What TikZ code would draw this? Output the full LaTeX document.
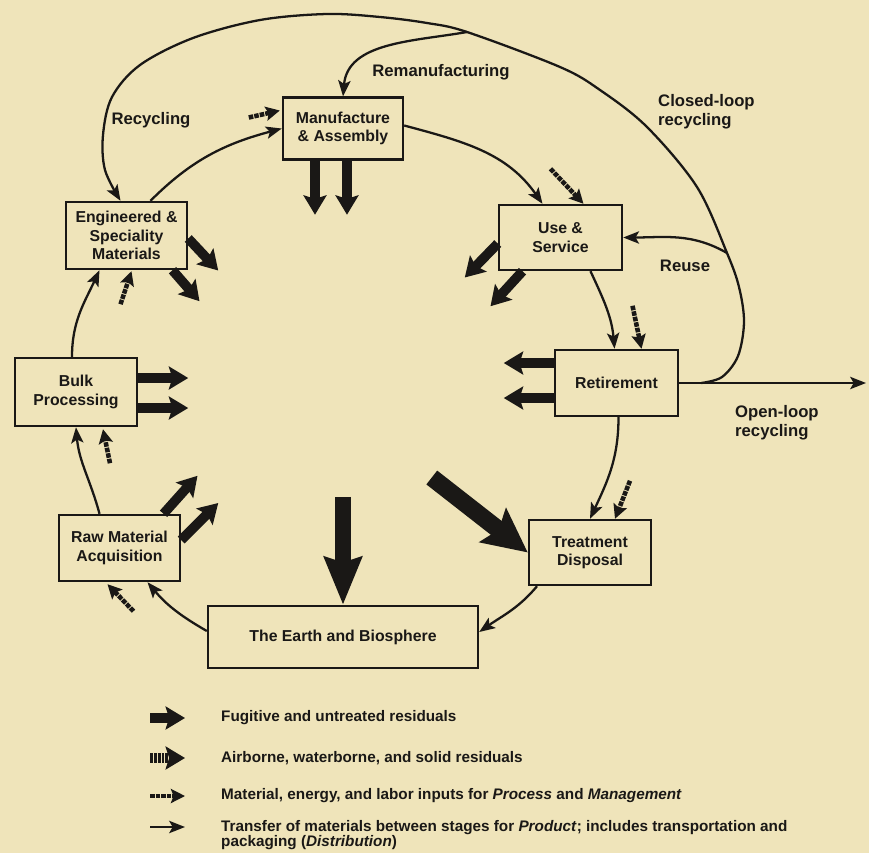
\documentclass[tikz,border=0pt]{standalone}
\usepackage{fontspec}
\setmainfont{Liberation Sans}
\usepackage{tikz}
\usetikzlibrary{positioning, arrows.meta, calc}

\definecolor{paper}{RGB}{239,228,186}
\definecolor{ink}{RGB}{26,24,22}

\begin{document}
\begin{tikzpicture}[
    x=0.02cm, y=-0.02cm,
    stage/.style={draw=ink, line width=1.4pt, align=center, inner sep=0pt, text=ink,
                  font=\fontsize{9}{10.5}\selectfont\bfseries},
    tag/.style={text=ink, align=left, font=\fontsize{9.5}{11}\selectfont\bfseries},
    legend/.style={text=ink, align=left, anchor=west, font=\fontsize{8.7}{9}\selectfont\bfseries},
    transfer/.style={-{Stealth[length=9pt, width=7pt, inset=2pt]}, line width=1.3pt, draw=ink},
    fugitive/.style={-{Stealth[length=11pt, width=13pt, inset=2pt]}, line width=5.5pt, draw=ink},
    airborne/.style={fugitive, dash pattern=on 1.6pt off 0.6pt},
    input/.style={-{Stealth[length=8pt, width=8pt, inset=1.5pt]}, line width=2.6pt, draw=ink,
                  dash pattern=on 2.6pt off 0.6pt},
    bigdown/.style={-{Stealth[length=27pt, width=21pt, inset=3pt]}, line width=9pt, draw=ink},
    bigdiag/.style={-{Stealth[length=25pt, width=24pt, inset=4pt]}, line width=10pt, draw=ink}
]

    % Paper
    \fill[paper] (0,0) rectangle (869,853);
    \useasboundingbox (0,0) rectangle (869,853);

    % Life cycle stages
    \node[stage, minimum width=2.40cm, minimum height=1.24cm] (mfg)   at (343,128.5) {Manufacture\\\& Assembly};
    \node[stage, minimum width=2.42cm, minimum height=1.34cm] (eng)   at (126.5,235.5) {Engineered \&\\Speciality\\Materials};
    \node[stage, minimum width=2.46cm, minimum height=1.30cm] (use)   at (560.5,237.5) {Use \&\\Service};
    \node[stage, minimum width=2.46cm, minimum height=1.32cm] (ret)   at (616.5,383) {Retirement};
    \node[stage, minimum width=2.44cm, minimum height=1.36cm] (bulk)  at (76,392) {Bulk\\Processing};
    \node[stage, minimum width=2.42cm, minimum height=1.32cm] (raw)   at (119.5,548) {Raw Material\\Acquisition};
    \node[stage, minimum width=2.44cm, minimum height=1.30cm] (treat) at (590,552.5) {Treatment\\Disposal};
    \node[stage, minimum width=5.40cm, minimum height=1.24cm] (earth) at (343,637) {The Earth and Biosphere};

    % Loop labels
    \node[tag] (remantag) at (441,72) {Remanufacturing};
    \node[tag] (recytag) at (151,120) {Recycling};
    \node[tag, anchor=west] (closedtag) at (652,112) {Closed-loop\\recycling};
    \node[tag] (reusetag) at (685,266) {Reuse};
    \node[tag, anchor=west] (opentag) at (729,423) {Open-loop\\recycling};

    % Transfers between stages
    \draw[transfer] ($(raw.north)+(-20,0)$) to[out=105, in=-85] (bulk.south);
    \draw[transfer] ($(bulk.north)+(-4,0)$) to[out=90, in=-115] ($(eng.south)+(-27,0)$);
    \draw[transfer] ($(eng.north)+(24,0)$) to[out=45, in=195] (mfg.west);
    \draw[transfer] ($(mfg.east)+(0,-3)$) to[out=-15, in=125] ($(use.north)+(-18,0)$);
    \draw[transfer] ($(use.south)+(30,0)$) to[out=-65, in=95] ($(ret.north)+(-2,0)$);
    \draw[transfer] ($(ret.south)+(2,0)$) to[out=-90, in=65] (treat.north);
    \draw[transfer] ($(treat.south)+(-53,0)$) to[out=-130, in=35] ($(earth.east)+(0,-5)$);
    \draw[transfer] ($(earth.west)+(0,-6)$) to[out=150, in=-50] ($(raw.south)+(28,0)$);

    % Recycling loops
    \coordinate (split) at ($(ret.east)+(22,0)$);
    \coordinate (open) at (866,383);
    \coordinate (reuse) at (727,253);
    \coordinate (reman) at (467,32);
    \coordinate (recycle) at ($(eng.north)+(-6,0)$);
    \draw[transfer] (ret.east) -- (open);
    \draw[transfer] plot[smooth, tension=0.55] coordinates {(split) (722,377) (738,356) (744,322)
        (739,287) (reuse) (697,187) (647,127) (600,90) (560,67) (reman) (427,23) (380,17)
        (327,14) (260,20) (193,38) (140,65) (112,97) (103,135) (105,170) (recycle)};
    \draw[transfer] (reman) to[out=190, in=85] (mfg.north);
    \draw[transfer] (reuse) to[out=150, in=0] (use.east);

    % Residual outputs
    \draw[fugitive] ($(mfg.south)+(-28,0)$) -- ++(0,54);
    \draw[fugitive] ($(mfg.south)+(4,0)$) -- ++(0,54);
    \draw[fugitive] ($(eng.east)+(0,3)$) -- ++(30,32);
    \draw[fugitive] ($(eng.south)+(46,0)$) -- ++(27,31);
    \draw[fugitive] ($(use.west)+(0,6)$) -- ++(-33,34);
    \draw[fugitive] ($(use.south)+(-38,0)$) -- ++(-32,35);
    \draw[fugitive] ($(bulk.east)+(0,-14)$) -- ++(50,0);
    \draw[fugitive] ($(bulk.east)+(0,16)$) -- ++(50,0);
    \draw[fugitive] ($(ret.west)+(0,-20)$) -- ++(-50,0);
    \draw[fugitive] ($(ret.west)+(0,15)$) -- ++(-50,0);
    \draw[fugitive] ($(raw.north)+(44,0)$) -- ++(34,-38);
    \draw[fugitive] ($(raw.east)+(0,-8)$) -- ++(37,-37);
    \draw[bigdown] ($(earth.north)+(0,-108)$) -- (earth.north);
    \draw[bigdiag] ($(treat.west)+(-96,-75)$) -- (treat.west);

    % Inputs
    \draw[input] ($(mfg.west)+(-33,-11)$) -- ($(mfg.west)+(-2,-18)$);
    \draw[input] ($(use.north)+(-10,-35)$) -- ($(use.north)+(23,0)$);
    \draw[input] ($(ret.north)+(16,-43)$) -- ($(ret.north)+(25,0)$);
    \draw[input] ($(treat.north)+(40,-38)$) -- ($(treat.north)+(25,0)$);
    \draw[input] ($(eng.south)+(-6,34)$) -- ($(eng.south)+(5,1)$);
    \draw[input] ($(bulk.south)+(34,36)$) -- ($(bulk.south)+(27,2)$);
    \draw[input] ($(raw.south)+(14,29)$) -- ($(raw.south)+(-12,2)$);

    % Legend
    \node[legend] (lg1) at (215,718) {Fugitive and untreated residuals};
    \node[legend] (lg2) at (215,758) {Airborne, waterborne, and solid residuals};
    \node[legend] (lg3) at (215,796) {Material, energy, and labor inputs for \textit{Process} and \textit{Management}};
    \node[legend] (lg4) at (215,835) {Transfer of materials between stages for \textit{Product}; includes transportation and\\packaging (\textit{Distribution})};
    \draw[fugitive] ($(lg1.west)+(-65,0)$) -- ($(lg1.west)+(-30,0)$);
    \draw[airborne] ($(lg2.west)+(-65,0)$) -- ($(lg2.west)+(-30,0)$);
    \draw[input] ($(lg3.west)+(-65,0)$) -- ($(lg3.west)+(-30,0)$);
    \draw[transfer] ($(lg4.west)+(-65,-8)$) -- ($(lg4.west)+(-30,-8)$);

\end{tikzpicture}
\end{document}
